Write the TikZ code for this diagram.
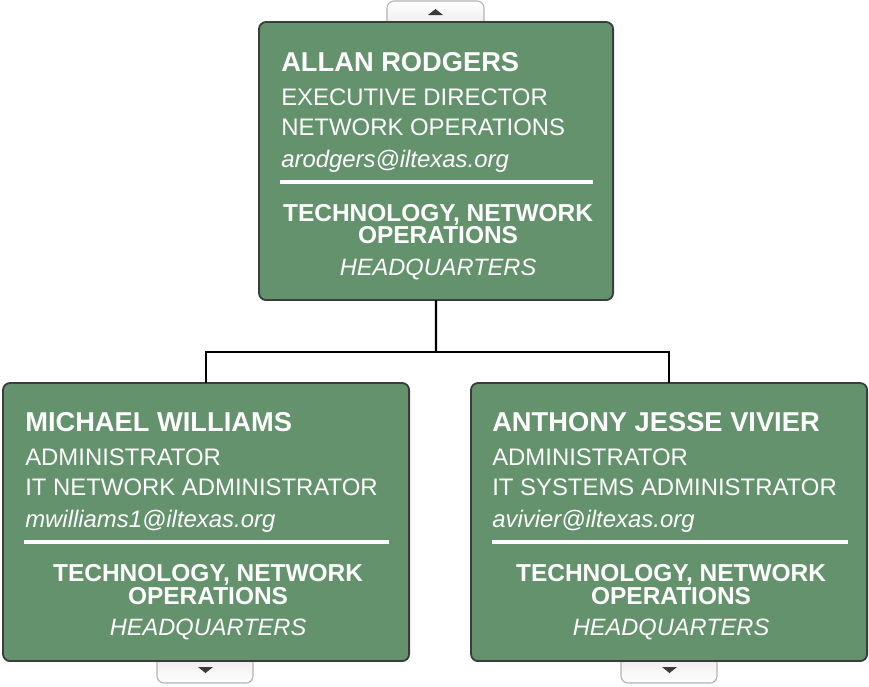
\documentclass[tikz,border=0pt]{standalone}
\usepackage{fontspec}
\setmainfont{Liberation Sans}
\usepackage{xcolor}
\usetikzlibrary{calc}
\usetikzlibrary{positioning}

\definecolor{boxgreen}{HTML}{64926C}
\definecolor{boxedge}{HTML}{3C3C3C}
\definecolor{tabedge}{HTML}{B4B4B4}
\definecolor{tabmark}{HTML}{3A3A3A}

\begin{document}
\begin{tikzpicture}[
  x=0.025cm,y=-0.025cm, % one unit is one pixel of the layout, y grows downwards
  person box/.style={draw=boxedge,line width=1.3pt,fill=boxgreen,rounded corners=5pt,
    inner sep=0pt,outer sep=0pt,anchor=north west,minimum height=6.95cm}, % style of the cards
  card tab/.style={draw=tabedge,line width=0.8pt,rounded corners=5pt,top color=white,bottom color=black!12}, % little grey tabs
  person name/.style={anchor=base west,inner sep=0pt,text=white,font=\fontsize{19.4pt}{22pt}\selectfont\bfseries},
  job line/.style={anchor=base west,inner sep=0pt,text=white,font=\fontsize{17pt}{20pt}\selectfont},
  mail line/.style={anchor=base west,inner sep=0pt,text=white,font=\fontsize{17pt}{20pt}\selectfont\itshape},
  dept line/.style={anchor=base,inner sep=0pt,text=white,text depth=0pt,font=\fontsize{17.4pt}{20pt}\selectfont\bfseries},
  site line/.style={anchor=base,inner sep=0pt,text=white,font=\fontsize{16.8pt}{20pt}\selectfont\itshape},
  white rule/.style={white,line width=3.5pt},
  tree link/.style={black,line width=1.5pt} % style of the tree lines
  ]

  \useasboundingbox (0,0) rectangle (869,686);

  % tabs go first, the cards hide their inner half
  \draw[card tab] (387,1) rectangle (484,40);
  \draw[card tab,top color=black!12,bottom color=white] (157,640) rectangle (253,683);
  \draw[card tab,top color=black!12,bottom color=white] (621,640) rectangle (717,683);
  \fill[tabmark] (428,15) -- (443,15) -- (435.5,9) -- cycle;
  \fill[tabmark] (198,667) -- (213,667) -- (205.5,673) -- cycle;
  \fill[tabmark] (662,667) -- (677,667) -- (669.5,673) -- cycle;

  % cards
  \node[person box,minimum width=8.85cm] (allan) at (259,22) {};
  \node[person box,minimum width=10.15cm] (michael) at (3,383) {};
  \node[person box,minimum width=9.9cm] (anthony) at (471,383) {};

  \node[person name] (allan name) at ($(allan.north west)+(22,49)$) {ALLAN RODGERS};
  \node[job line] (allan title) at ($(allan.north west)+(22,83)$) {EXECUTIVE DIRECTOR};
  \node[job line] (allan unit) at ($(allan.north west)+(22,113)$) {NETWORK OPERATIONS};
  \node[mail line] (allan mail) at ($(allan.north west)+(22,145)$) {arodgers@iltexas.org};
  \draw[white rule] ($(allan.north west)+(21,160)$) -- ($(allan.north east)+(-20,160)$);
  \node[dept line] (allan dept) at ($(allan.north)+(2,199)$) {TECHNOLOGY, NETWORK};
  \node[dept line] (allan ops) at ($(allan.north)+(2,221)$) {OPERATIONS};
  \node[site line] (allan site) at ($(allan.north)+(2,253)$) {HEADQUARTERS};

  \node[person name] (michael name) at ($(michael.north west)+(22,48)$) {MICHAEL WILLIAMS};
  \node[job line] (michael title) at ($(michael.north west)+(22,82)$) {ADMINISTRATOR};
  \node[job line] (michael unit) at ($(michael.north west)+(22,112)$) {IT NETWORK ADMINISTRATOR};
  \node[mail line] (michael mail) at ($(michael.north west)+(22,144)$) {mwilliams1@iltexas.org};
  \draw[white rule] ($(michael.north west)+(21,159)$) -- ($(michael.north east)+(-20,159)$);
  \node[dept line] (michael dept) at ($(michael.north)+(2,198)$) {TECHNOLOGY, NETWORK};
  \node[dept line] (michael ops) at ($(michael.north)+(2,221)$) {OPERATIONS};
  \node[site line] (michael site) at ($(michael.north)+(2,252)$) {HEADQUARTERS};

  \node[person name] (anthony name) at ($(anthony.north west)+(21,48)$) {ANTHONY JESSE VIVIER};
  \node[job line] (anthony title) at ($(anthony.north west)+(21,82)$) {ADMINISTRATOR};
  \node[job line] (anthony unit) at ($(anthony.north west)+(21,112)$) {IT SYSTEMS ADMINISTRATOR};
  \node[mail line] (anthony mail) at ($(anthony.north west)+(21,144)$) {avivier@iltexas.org};
  \draw[white rule] ($(anthony.north west)+(21,159)$) -- ($(anthony.north east)+(-19,159)$);
  \node[dept line] (anthony dept) at ($(anthony.north)+(2,198)$) {TECHNOLOGY, NETWORK};
  \node[dept line] (anthony ops) at ($(anthony.north)+(2,221)$) {OPERATIONS};
  \node[site line] (anthony site) at ($(anthony.north)+(2,252)$) {HEADQUARTERS};

  % tree lines
  \coordinate (bus) at (436,352);
  \draw[tree link] (allan.south) -- (bus);
  \draw[tree link] (bus) -| (michael.north);
  \draw[tree link] (bus) -| (anthony.north);
\end{tikzpicture}
\end{document}
